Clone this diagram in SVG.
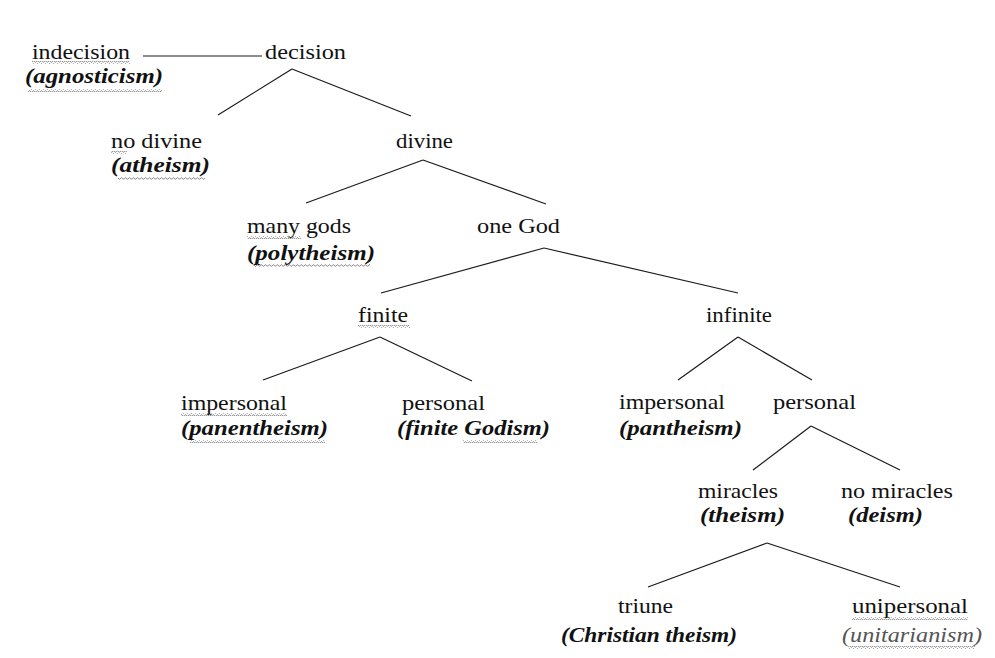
<svg xmlns="http://www.w3.org/2000/svg" width="995" height="658" viewBox="0 0 995 658">
<defs>
<pattern id="sq" width="4" height="3" patternUnits="userSpaceOnUse">
<path d="M0,2.2 L1,0.8 L2,0.8 L3,2.2 L4,2.2" fill="none" stroke="#8a8a8a" stroke-width="0.9"/>
</pattern>
<style>
text{font-family:"Liberation Serif","Times New Roman",Times,Tinos,"Noto Serif","DejaVu Serif",FreeSerif,"Nimbus Roman",serif;font-size:21px;fill:#111}
.t{font-weight:bold;font-style:italic}
.u{font-style:italic;fill:#555}
.sq{fill:url(#sq)}
line{stroke:#1a1a1a;stroke-width:1.2}
</style>
</defs>
<rect width="995" height="658" fill="#ffffff"/>
<g id="connectors">
<line x1="143" y1="56" x2="262" y2="56"/>
<line x1="292" y1="69" x2="218" y2="115"/>
<line x1="292" y1="69" x2="411" y2="116"/>
<line x1="423" y1="160" x2="306" y2="203"/>
<line x1="423" y1="160" x2="546" y2="204"/>
<line x1="544" y1="248" x2="381" y2="293"/>
<line x1="544" y1="248" x2="738" y2="293"/>
<line x1="380" y1="337" x2="263" y2="380"/>
<line x1="380" y1="337" x2="472" y2="381"/>
<line x1="738" y1="337" x2="678" y2="380"/>
<line x1="738" y1="337" x2="812" y2="380"/>
<line x1="811" y1="426" x2="753" y2="470"/>
<line x1="811" y1="426" x2="900" y2="470"/>
<line x1="767" y1="543" x2="648" y2="587"/>
<line x1="767" y1="543" x2="900" y2="587"/>
</g>
<g id="indecision">
<text x="32" y="59" textLength="98" lengthAdjust="spacingAndGlyphs">indecision</text>
<text class="t" x="25" y="83" textLength="138" lengthAdjust="spacingAndGlyphs">(agnosticism)</text>
<rect class="sq" x="32" y="61" width="98" height="3"/>
<rect class="sq" x="28" y="89" width="134" height="3"/>
</g>
<g id="decision">
<text x="265" y="59" textLength="81" lengthAdjust="spacingAndGlyphs">decision</text>
</g>
<g id="no-divine">
<text x="111" y="148" textLength="91" lengthAdjust="spacingAndGlyphs">no divine</text>
<text class="t" x="111" y="172" textLength="99" lengthAdjust="spacingAndGlyphs">(atheism)</text>
<rect class="sq" x="111" y="151" width="16" height="3"/>
<rect class="sq" x="118" y="177" width="87" height="3"/>
</g>
<g id="divine">
<text x="396" y="148" textLength="57" lengthAdjust="spacingAndGlyphs">divine</text>
</g>
<g id="many-gods">
<text x="247" y="233" textLength="104" lengthAdjust="spacingAndGlyphs">many gods</text>
<text class="t" x="247" y="260" textLength="128" lengthAdjust="spacingAndGlyphs">(polytheism)</text>
<rect class="sq" x="247" y="236" width="54" height="3"/>
<rect class="sq" x="253" y="264" width="117" height="3"/>
</g>
<g id="one-god">
<text x="477" y="233" textLength="83" lengthAdjust="spacingAndGlyphs">one God</text>
</g>
<g id="finite">
<text x="358" y="322" textLength="50" lengthAdjust="spacingAndGlyphs">finite</text>
<rect class="sq" x="358" y="325" width="52" height="3"/>
</g>
<g id="infinite">
<text x="706" y="322" textLength="66" lengthAdjust="spacingAndGlyphs">infinite</text>
</g>
<g id="finite-impersonal">
<text x="181" y="410" textLength="106" lengthAdjust="spacingAndGlyphs">impersonal</text>
<text class="t" x="181" y="435" textLength="147" lengthAdjust="spacingAndGlyphs">(panentheism)</text>
<rect class="sq" x="181" y="413" width="106" height="3"/>
<rect class="sq" x="190" y="440" width="135" height="3"/>
</g>
<g id="finite-personal">
<text x="402" y="410" textLength="83" lengthAdjust="spacingAndGlyphs">personal</text>
<text class="t" x="397" y="435" textLength="153" lengthAdjust="spacingAndGlyphs">(finite Godism)</text>
<rect class="sq" x="463" y="440" width="74" height="3"/>
</g>
<g id="infinite-impersonal">
<text x="619" y="409" textLength="106" lengthAdjust="spacingAndGlyphs">impersonal</text>
<text class="t" x="619" y="435" textLength="123" lengthAdjust="spacingAndGlyphs">(pantheism)</text>
</g>
<g id="infinite-personal">
<text x="773" y="409" textLength="83" lengthAdjust="spacingAndGlyphs">personal</text>
</g>
<g id="miracles">
<text x="698" y="498" textLength="80" lengthAdjust="spacingAndGlyphs">miracles</text>
<text class="t" x="700" y="522" textLength="85" lengthAdjust="spacingAndGlyphs">(theism)</text>
</g>
<g id="no-miracles">
<text x="841" y="498" textLength="112" lengthAdjust="spacingAndGlyphs">no miracles</text>
<text class="t" x="848" y="522" textLength="75" lengthAdjust="spacingAndGlyphs">(deism)</text>
</g>
<g id="triune">
<text x="618" y="613" textLength="55" lengthAdjust="spacingAndGlyphs">triune</text>
<text class="t" x="561" y="642" textLength="176" lengthAdjust="spacingAndGlyphs">(Christian theism)</text>
</g>
<g id="unipersonal">
<text x="852" y="613" textLength="116" lengthAdjust="spacingAndGlyphs">unipersonal</text>
<text class="u" x="842" y="642" textLength="140" lengthAdjust="spacingAndGlyphs">(unitarianism)</text>
<rect class="sq" x="852" y="617" width="116" height="3"/>
<rect class="sq" x="848" y="646" width="127" height="3"/>
</g>
</svg>
